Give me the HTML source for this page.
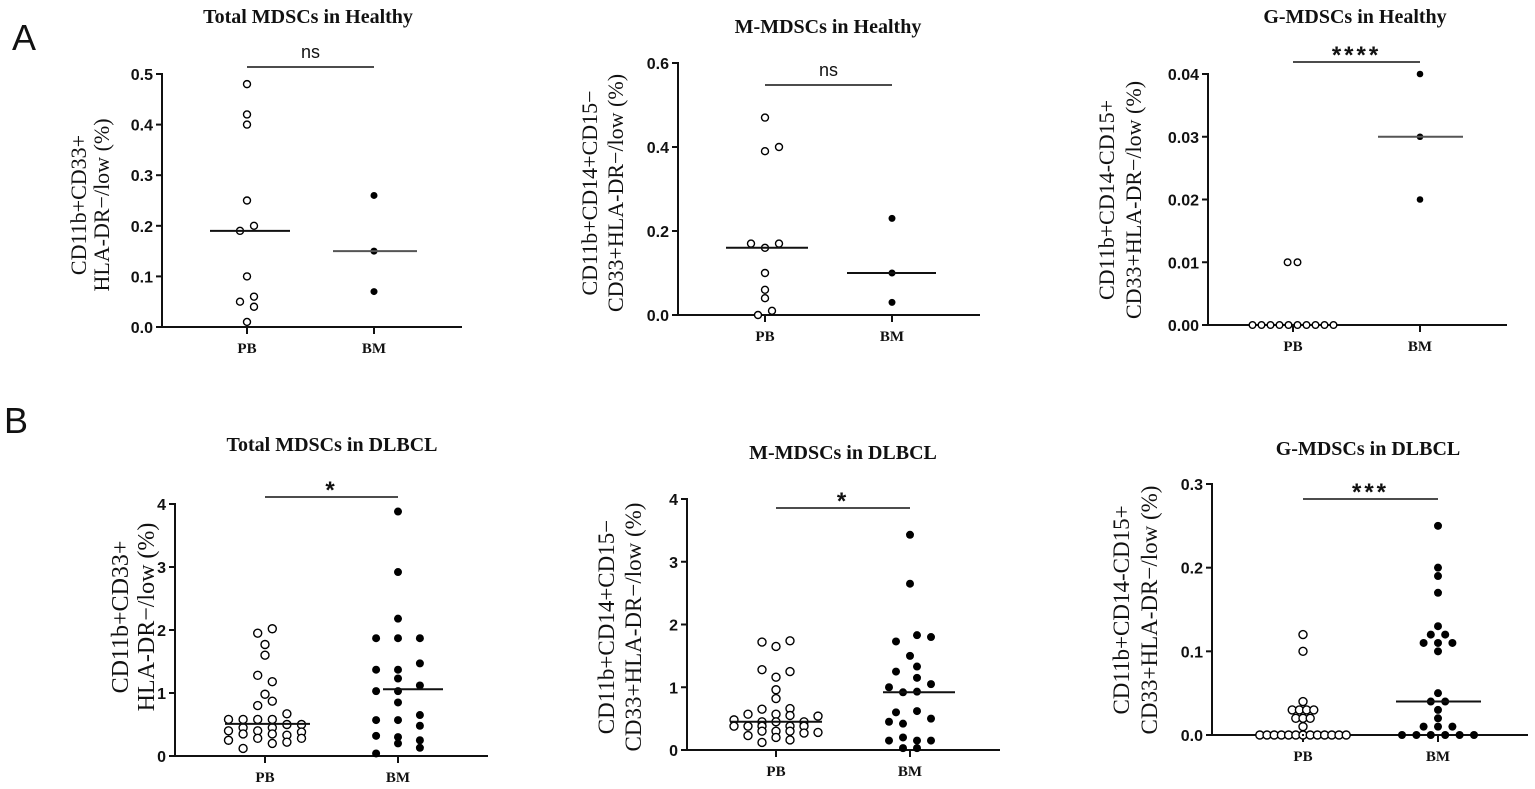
<!DOCTYPE html>
<html><head><meta charset="utf-8"><style>
html,body{margin:0;padding:0;background:#fff;}
svg{display:block;}
.tick{font-family:"Liberation Sans",sans-serif;font-weight:bold;font-size:16px;fill:#111;}
.cat{font-family:"Liberation Serif",serif;font-weight:bold;font-size:15px;fill:#111;}
.ttl{font-family:"Liberation Serif",serif;font-weight:bold;font-size:20px;fill:#111;}
.yt{font-family:"Liberation Serif",serif;font-size:21px;fill:#111;}
.sig{font-family:"Liberation Sans",sans-serif;font-size:18px;fill:#111;}
.star{font-family:"Liberation Sans",sans-serif;font-size:24px;font-weight:bold;fill:#111;letter-spacing:3px;}
.lbl{font-family:"Liberation Sans",sans-serif;font-size:36px;fill:#111;}
</style></head><body>
<svg id="fig" width="1535" height="789" viewBox="0 0 1535 789" xmlns="http://www.w3.org/2000/svg">
<text class="lbl" x="12" y="50">A</text>
<text class="lbl" x="4" y="433">B</text>
</svg>
<script>
// ---- data: [value, beeswarm column offset] ----
const a1PB=[[0.48,0],[0.42,0],[0.40,0],[0.25,0],[0.20,1],[0.19,-1],[0.10,0],[0.06,1],[0.05,-1],[0.04,1],[0.01,0]];
const a1BM=[[0.26,0],[0.15,0],[0.07,0]];
const a1Med=[0.19,0.15];
const a1Ticks=[0,0.1,0.2,0.3,0.4,0.5];
const a1TickLabels=["0.0","0.1","0.2","0.3","0.4","0.5"];

const a2PB=[[0.47,0],[0.39,0],[0.40,2],[0.17,-2],[0.16,0],[0.17,2],[0.10,0],[0.06,0],[0.04,0],[0.0,-1],[0.01,1]];
const a2BM=[[0.23,0],[0.10,0],[0.03,0]];
const a2Med=[0.16,0.10];
const a2Ticks=[0,0.2,0.4,0.6];
const a2TickLabels=["0.0","0.2","0.4","0.6"];

const a3PB=[[0.01,-0.6],[0.01,0.5],[0,-4.5],[0,-3.5],[0,-2.5],[0,-1.5],[0,-0.5],[0,0.5],[0,1.5],[0,2.5],[0,3.5],[0,4.5]];
const a3BM=[[0.04,0],[0.03,0],[0.02,0]];
const a3Med=[0,0.03];
const a3Ticks=[0,0.01,0.02,0.03,0.04];
const a3TickLabels=["0.00","0.01","0.02","0.03","0.04"];

const b1PB=[[1.95,-1],[2.02,1],[1.77,0],[1.6,0],[1.28,-1],[1.18,1],[0.98,0],[0.87,1],[0.8,-1],[0.67,3],
[0.58,-5],[0.58,-3],[0.58,-1],[0.58,1],[0.5,3],[0.5,5],[0.45,-3],[0.45,1],[0.4,-5],[0.4,-1],[0.38,5],
[0.35,-3],[0.35,1],[0.33,3],[0.28,-1],[0.28,5],[0.25,-5],[0.2,1],[0.22,3],[0.12,-3]];
const b1BM=[[3.88,0],[2.92,0],[2.18,0],[1.87,-3],[1.87,0],[1.87,3],[1.47,3],[1.37,-3],[1.37,0],[1.23,0],[1.12,3],
[1.03,-3],[1.03,0],[0.85,0],[0.65,3],[0.57,-3],[0.57,0],[0.48,3],[0.32,-3],[0.3,0],[0.25,3],[0.2,0],[0.13,3],[0.04,-3]];
const b1Med=[0.51,1.06];
const b1Ticks=[0,1,2,3,4];
const b1TickLabels=["0","1","2","3","4"];

const b2PB=[[1.72,-2],[1.65,0],[1.74,2],[1.28,-2],[1.16,0],[1.25,2],[0.96,0],[0.82,0],[0.65,-2],[0.66,2],
[0.57,-4],[0.57,0],[0.55,2],[0.54,6],[0.48,-6],[0.45,-2],[0.45,0],[0.45,4],[0.38,-6],[0.38,-4],[0.38,-2],[0.38,2],[0.38,4],
[0.3,-2],[0.3,0],[0.3,2],[0.28,6],[0.27,4],[0.23,-4],[0.2,0],[0.16,2],[0.12,-2]];
const b2BM=[[3.43,0],[2.65,0],[1.83,1],[1.8,3],[1.73,-2],[1.5,0],[1.33,1],[1.25,-2],[1.15,1],[1.05,3],[1.0,-3],
[0.92,-1],[0.93,1],[0.62,1],[0.6,-2],[0.5,3],[0.45,-3],[0.42,-1],[0.2,-1],[0.15,-3],[0.15,1],[0.15,3],[0.03,-1],[0.03,1]];
const b2Med=[0.45,0.92];
const b2Ticks=[0,1,2,3,4];
const b2TickLabels=["0","1","2","3","4"];

const b3PB=[[0.12,0],[0.10,0],[0.04,0],[0.03,-1.5],[0.03,-0.5],[0.03,0.5],[0.03,1.5],[0.02,-1],[0.02,0],[0.02,1],[0.01,0],
[0,-6],[0,-5],[0,-4],[0,-3],[0,-2],[0,-1],[0,0],[0,1],[0,2],[0,3],[0,4],[0,5],[0,6]];
const b3BM=[[0.25,0],[0.20,0],[0.19,0],[0.17,0],[0.13,0],[0.12,-1],[0.12,1],[0.11,-2],[0.11,0],[0.11,2],[0.10,0],
[0.05,0],[0.04,-1],[0.04,1],[0.03,0],[0.02,0],[0.01,-2],[0.01,0],[0.01,2],
[0,-5],[0,-3],[0,-1],[0,1],[0,3],[0,5]];
const b3Med=[0,0.04];
const b3Ticks=[0,0.1,0.2,0.3];
const b3TickLabels=["0.0","0.1","0.2","0.3"];

const categories=["PB","BM"];

const NS="http://www.w3.org/2000/svg";
const svg=document.getElementById('fig');
function mk(tag,attrs,parent){const e=document.createElementNS(NS,tag);for(const k in attrs)e.setAttribute(k,attrs[k]);(parent||svg).appendChild(e);return e;}

function panel(cfg){
  const g=mk('g',{});
  
  
  const ymax=cfg.ticks[cfg.ticks.length-1];
  const Y=v=>cfg.y0-(v/ymax)*(cfg.y0-cfg.yTop);
  const catX=[cfg.pbX,cfg.bmX];
  const t=mk('text',{class:'ttl',x:cfg.titleX,y:cfg.titleY,'text-anchor':'middle'},g);
  t.textContent=cfg.title;
  
  
  const yt=mk('text',{class:'yt','text-anchor':'middle',transform:`translate(${cfg.ytX},${cfg.ytY}) rotate(-90)`,style:`font-size:${cfg.ytSize}px`},g);
  
  
  cfg.ytLines.forEach((ln,i)=>{const s=mk('tspan',{x:0,y:i*cfg.ytGap},yt);s.textContent=ln;});
  const ya=mk('line',{x1:cfg.axX,y1:cfg.yTop-1,x2:cfg.axX,y2:cfg.y0+1,stroke:'#111','stroke-width':2},g);
  
  
  const xa=mk('line',{x1:cfg.axX,y1:cfg.y0,x2:cfg.axEnd,y2:cfg.y0,stroke:'#111','stroke-width':2},g);
  
  
  cfg.ticks.forEach((v,i)=>{
    mk('line',{x1:cfg.axX-6,y1:Y(v),x2:cfg.axX,y2:Y(v),stroke:'#111','stroke-width':2},g);
    const tl=mk('text',{class:'tick',x:cfg.axX-9,y:Y(v)+6,'text-anchor':'end'},g);
    tl.textContent=cfg.tickLabels[i];
    
    
  });
  categories.forEach((c,i)=>{
    mk('line',{x1:catX[i],y1:cfg.y0,x2:catX[i],y2:cfg.y0+7,stroke:'#111','stroke-width':2},g);
    const cl=mk('text',{class:'cat',x:catX[i],y:cfg.y0+26,'text-anchor':'middle'},g);
    cl.textContent=c;
    
    
  });
  const sb=mk('line',{x1:cfg.barX1,y1:cfg.barY,x2:cfg.bmX,y2:cfg.barY,stroke:'#111','stroke-width':1.6},g);
  
  
  const isNs=cfg.sig==='ns';
  const st=mk('text',{class:isNs?'sig':'star',x:(cfg.barX1+cfg.bmX)/2,y:cfg.barY-(isNs?9:-1),'text-anchor':'middle'},g);
  st.textContent=cfg.sig;
  
  
  [cfg.pb,cfg.bm].forEach((arr,gi)=>{
    arr.forEach(p=>{
      const c=mk('circle',{cx:catX[gi]+p[1]*cfg.unit,cy:Y(p[0]),r:cfg.r,fill:gi?'#000':'#fff',stroke:'#000','stroke-width':gi?0:1.4},g);
      
      
    });
  });
  cfg.med.forEach((m,i)=>{
    const ml=mk('line',{x1:catX[i]+cfg.medL[i],y1:Y(m),x2:catX[i]+cfg.medR[i],y2:Y(m),stroke:i&&cfg.grayBM?'#555':'#111','stroke-width':2},g);
    
    
  });
}

panel({id:'total-healthy',title:'Total MDSCs in Healthy',titleX:308,titleY:23,axX:162,axEnd:462,y0:327,yTop:74,pbX:247,bmX:374,
 ticks:a1Ticks,tickLabels:a1TickLabels,pb:a1PB,bm:a1BM,med:a1Med,medL:[-37,-41],medR:[43,43],unit:7,r:3.5,
 barX1:247,barY:67,sig:'ns',ytLines:['CD11b+CD33+','HLA-DR\u2212/low (%)'],ytX:86,ytY:205,ytGap:23,ytSize:22,grayBM:true});
panel({id:'m-healthy',title:'M-MDSCs in Healthy',titleX:828,titleY:33,axX:678,axEnd:980,y0:315,yTop:63,pbX:765,bmX:892,
 ticks:a2Ticks,tickLabels:a2TickLabels,pb:a2PB,bm:a2BM,med:a2Med,medL:[-39,-45],medR:[43,44],unit:7,r:3.5,
 barX1:765,barY:85,sig:'ns',ytLines:['CD11b+CD14+CD15\u2212','CD33+HLA-DR\u2212/low (%)'],ytX:597,ytY:193,ytGap:26,ytSize:22});
panel({id:'g-healthy',title:'G-MDSCs in Healthy',titleX:1355,titleY:23,axX:1208,axEnd:1507,y0:325,yTop:74,pbX:1293,bmX:1420,
 ticks:a3Ticks,tickLabels:a3TickLabels,pb:a3PB,bm:a3BM,med:a3Med,medL:[-1,-42],medR:[1,43],unit:9,r:3.3,
 barX1:1293,barY:62,sig:'****',ytLines:['CD11b+CD14-CD15+','CD33+HLA-DR\u2212/low (%)'],ytX:1114,ytY:200,ytGap:27,ytSize:22,grayBM:true});
panel({id:'total-dlbcl',title:'Total MDSCs in DLBCL',titleX:332,titleY:451,axX:175,axEnd:488,y0:756,yTop:504,pbX:265,bmX:398,
 ticks:b1Ticks,tickLabels:b1TickLabels,pb:b1PB,bm:b1BM,med:b1Med,medL:[-40,-15],medR:[45,45],unit:7.3,r:4,
 barX1:265,barY:497,sig:'*',ytLines:['CD11b+CD33+','HLA-DR\u2212/low (%)'],ytX:128,ytY:617,ytGap:26,ytSize:24});
panel({id:'m-dlbcl',title:'M-MDSCs in DLBCL',titleX:843,titleY:459,axX:687,axEnd:1000,y0:750,yTop:499,pbX:776,bmX:910,
 ticks:b2Ticks,tickLabels:b2TickLabels,pb:b2PB,bm:b2BM,med:b2Med,medL:[-46,-27],medR:[46,45],unit:7,r:4,
 barX1:776,barY:508,sig:'*',ytLines:['CD11b+CD14+CD15\u2212','CD33+HLA-DR\u2212/low (%)'],ytX:614,ytY:627,ytGap:27,ytSize:23});
panel({id:'g-dlbcl',title:'G-MDSCs in DLBCL',titleX:1368,titleY:455,axX:1212,axEnd:1528,y0:735,yTop:484,pbX:1303,bmX:1438,
 ticks:b3Ticks,tickLabels:b3TickLabels,pb:b3PB,bm:b3BM,med:b3Med,medL:[-1,-42],medR:[1,43],unit:7.2,r:4,
 barX1:1303,barY:499,sig:'***',ytLines:['CD11b+CD14-CD15+','CD33+HLA-DR\u2212/low (%)'],ytX:1129,ytY:610,ytGap:28,ytSize:23});
</script>
</body></html>
